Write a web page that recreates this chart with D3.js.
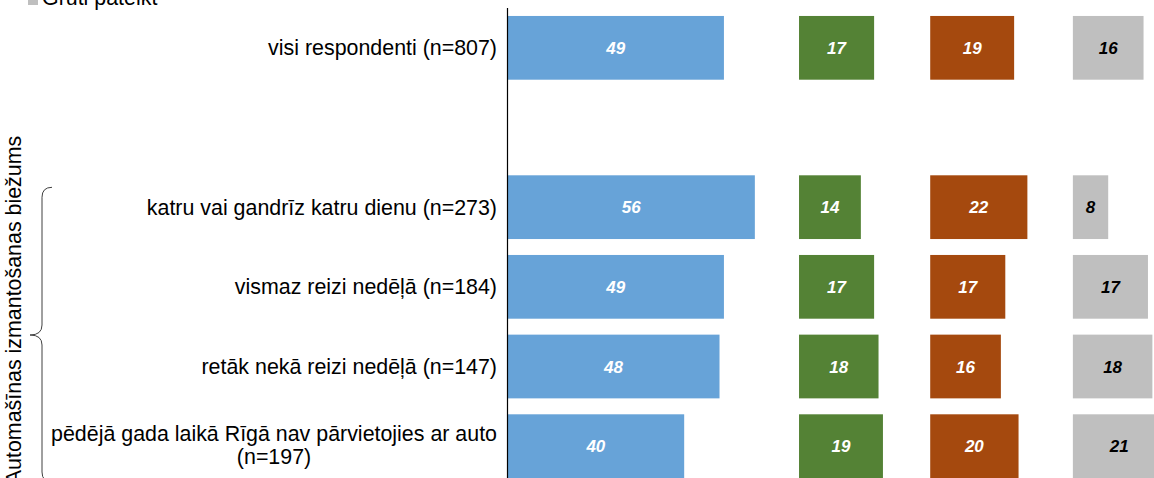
<!DOCTYPE html>
<html>
<head>
<meta charset="utf-8">
<script src="https://cdn.jsdelivr.net/npm/d3@7"></script>
<style>
  body { margin: 0; background: #fff; }
  svg { display: block; font-family: "Liberation Sans", Arial, sans-serif; }
</style>
</head>
<body>
<svg id="chart" width="1154" height="478"></svg>
<script>
const categories = [
  "visi respondenti (n=807)",
  "",
  "katru vai gandrīz katru dienu (n=273)",
  "vismaz reizi nedēļā (n=184)",
  "retāk nekā reizi nedēļā (n=147)",
  "pēdējā gada laikā Rīgā nav pārvietojies ar auto (n=197)"
];
const blueValues = [49, null, 56, 49, 48, 40];
const greenValues = [17, null, 14, 17, 18, 19];
const orangeValues = [19, null, 22, 17, 16, 20];
const grayValues = [16, null, 8, 17, 18, 21];
const legendLabel = "Grūti pateikt";
const groupTitle = "Automašīnas izmantošanas biežums";

const width = 1154;
const height = 478;
const fontSize = 21.4;
const svg = d3.select("#chart");

// each series sits in its own column along the same value axis
const series = [
  { values: blueValues, offset: 0, color: "#67A3D8", text: "#fff" },
  { values: greenValues, offset: 66, color: "#548235", text: "#fff" },
  { values: orangeValues, offset: 95.7, color: "#A5490E", text: "#fff" },
  { values: grayValues, offset: 128, color: "#BFBFBF", text: "#000" }
];

const x = d3.scaleLinear().domain([0, 100]).range([507.5, 507.5 + 441.7]);
const y = d3.scaleBand().domain(categories.map((d, i) => i)).range([8, 486]).paddingInner(0.2).paddingOuter(0.1);

// bars
series.forEach(s => {
  const rows = s.values.map((v, i) => ({ v, i })).filter(d => d.v != null);
  const g = svg.append("g");
  g.selectAll("rect")
    .data(rows)
    .join("rect")
    .attr("x", d => x(s.offset))
    .attr("y", d => y(d.i))
    .attr("width", d => x(s.offset + d.v) - x(s.offset))
    .attr("height", y.bandwidth())
    .attr("fill", s.color);
  g.selectAll("text")
    .data(rows)
    .join("text")
    .attr("x", d => x(s.offset + d.v / 2))
    .attr("y", d => y(d.i) + y.bandwidth() / 2)
    .attr("dy", "0.36em")
    .attr("text-anchor", "middle")
    .attr("font-size", 17)
    .attr("font-weight", "bold")
    .attr("font-style", "italic")
    .attr("fill", s.text)
    .text(d => d.v);
});

// axis line
svg.append("line")
  .attr("x1", x(0)).attr("x2", x(0))
  .attr("y1", 8).attr("y2", height)
  .attr("stroke", "#000").attr("stroke-width", 1.2);

// category labels
const labelRight = 497;
categories.forEach((c, i) => {
  if (!c) return;
  const cy = y(i) + y.bandwidth() / 2;
  const t = svg.append("text")
    .attr("font-size", fontSize)
    .attr("fill", "#000")
    .attr("text-anchor", "end")
    .attr("x", labelRight)
    .attr("y", cy)
    .attr("dy", "0.35em")
    .text(c);
  if (t.node().getComputedTextLength() > 450) {
    const cut = c.lastIndexOf(" (");
    const lines = [c.slice(0, cut), c.slice(cut + 1)];
    t.text(null);
    const tmp = svg.append("text").attr("font-size", fontSize).text(lines[0]);
    const w = tmp.node().getComputedTextLength();
    tmp.remove();
    t.attr("text-anchor", "middle").attr("x", labelRight - w / 2).attr("dy", null);
    lines.forEach((ln, k) => {
      t.append("tspan")
        .attr("x", labelRight - w / 2)
        .attr("y", cy + (k - 0.5) * 23 - 1)
        .attr("dy", "0.35em")
        .text(ln);
    });
  }
});

// group title and brace
svg.append("text")
  .attr("transform", "rotate(-90)")
  .attr("x", -310)
  .attr("y", 21)
  .attr("text-anchor", "middle")
  .attr("font-size", fontSize)
  .attr("fill", "#000")
  .text(groupTitle);

const bTop = y(2) + 12, bBot = 482, bMid = 335;
svg.append("path")
  .attr("d", `M52,${bTop} Q42,${bTop} 42,${bTop + 10} L42,${bMid - 10} Q42,${bMid} 30,${bMid} Q42,${bMid} 42,${bMid + 10} L42,${bBot - 10} Q42,${bBot} 52,${bBot}`)
  .attr("fill", "none")
  .attr("stroke", "#404040")
  .attr("stroke-width", 1);

// legend (only the last entry is inside the frame)
svg.append("rect").attr("x", 28).attr("y", -5).attr("width", 10).attr("height", 10).attr("fill", "#BFBFBF");
svg.append("text")
  .attr("x", 42).attr("y", 5)
  .attr("font-size", fontSize)
  .attr("fill", "#000")
  .text(legendLabel);
</script>
</body>
</html>
